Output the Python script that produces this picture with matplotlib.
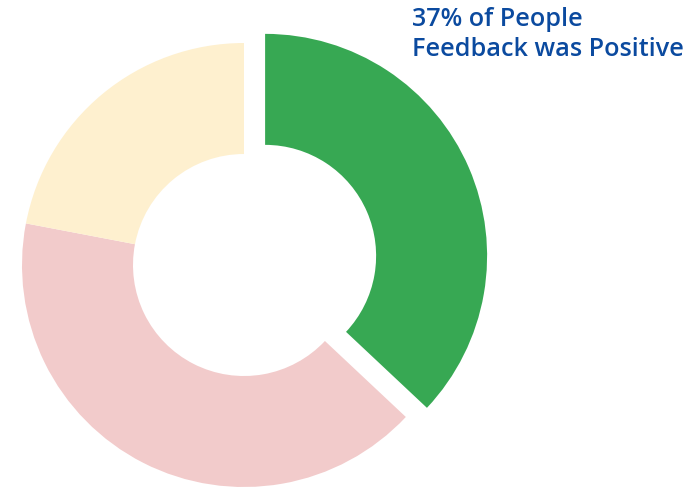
import matplotlib
matplotlib.use("Agg")
import matplotlib.pyplot as plt

# Feedback shares
categories = ["Positive", "Negative", "Neutral"]
shares = [37, 41, 22]
colors = ["#37a853", "#f2cbcb", "#fef0cf"]
offsets = [23, 0, 0]
headline = ["37% of People", "Feedback was Positive"]

W, H = 696, 491
fig = plt.figure(figsize=(W / 100, H / 100), dpi=100)
ax = fig.add_axes([0, 0, 1, 1])

ax.pie(shares, colors=colors, explode=offsets, startangle=90,
       counterclock=False, center=(244, 226), radius=222,
       wedgeprops=dict(width=111, linewidth=0))

# pie() resets the limits, so work in pixel units afterwards
ax.set_xlim(0, W)
ax.set_ylim(0, H)
ax.set_aspect("equal")
ax.axis("off")

for i, line in enumerate(headline):
    ax.text(412, H - 26 - 30 * i, line,
            fontsize=18.2, color="#0b4a9f", family="Open Sans",
            fontweight="semibold", ha="left", va="baseline")

fig.savefig("out.png", dpi=100)
